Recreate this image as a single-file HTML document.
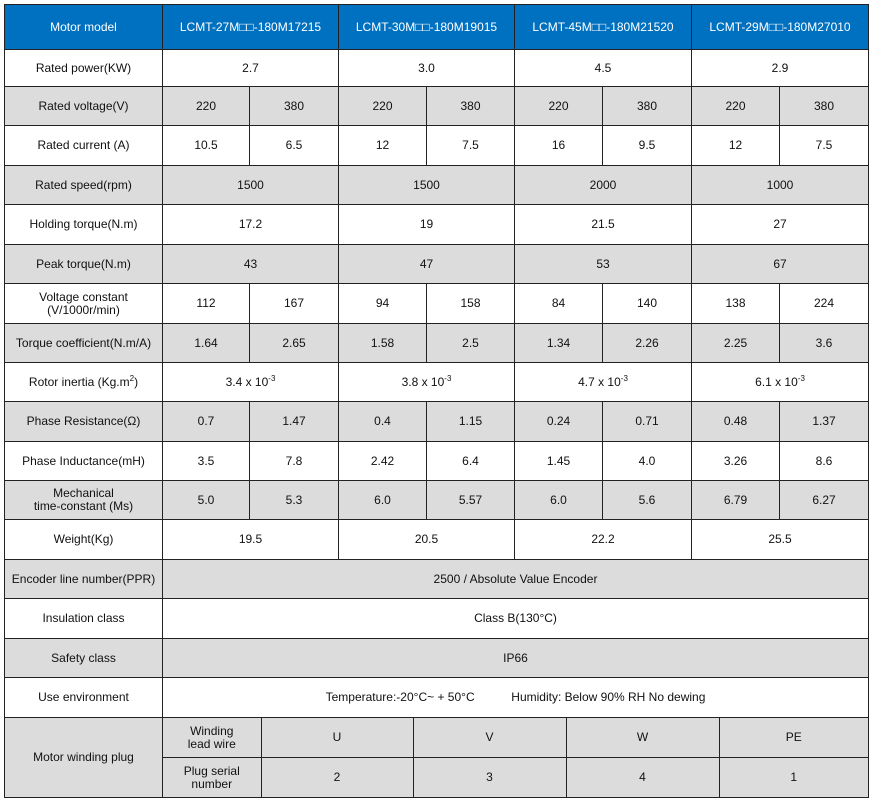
<!DOCTYPE html>
<html><head><meta charset="utf-8"><style>
html,body{margin:0;padding:0;background:#fff;width:873px;height:797px;overflow:hidden}
table{border-collapse:collapse;table-layout:fixed;position:absolute;left:4px;top:4px;font-family:"Liberation Sans",sans-serif;font-size:12px;color:#111}
td{border:1px solid #222;text-align:center;vertical-align:middle;padding:0;line-height:13px;overflow:hidden}
tr.g td{background:#dcdcdc}
tr.h td{background:#0070c0;color:#fff}
sup{font-size:8px;line-height:0}
.in{border-collapse:collapse;position:static;width:100%;height:78px}
.in td{height:39px}
.in tr:first-child td{border-top:none}
.in tr:last-child td{border-bottom:none}
.in td:first-child{border-left:none}
.in td:last-child{border-right:none}
</style></head><body>
<table>
<colgroup><col style="width:158px"><col style="width:87px"><col style="width:89px"><col style="width:88px"><col style="width:88px"><col style="width:88px"><col style="width:89px"><col style="width:88px"><col style="width:89px"></colgroup>
<tr class="h" style="height:45px"><td>Motor model</td><td colspan="2">LCMT-27M□□-180M17215</td><td colspan="2">LCMT-30M□□-180M19015</td><td colspan="2">LCMT-45M□□-180M21520</td><td colspan="2">LCMT-29M□□-180M27010</td></tr>
<tr style="height:37px"><td>Rated power(KW)</td><td colspan="2">2.7</td><td colspan="2">3.0</td><td colspan="2">4.5</td><td colspan="2">2.9</td></tr>
<tr class="g" style="height:39px"><td>Rated voltage(V)</td><td>220</td><td>380</td><td>220</td><td>380</td><td>220</td><td>380</td><td>220</td><td>380</td></tr>
<tr style="height:40px"><td>Rated current (A)</td><td>10.5</td><td>6.5</td><td>12</td><td>7.5</td><td>16</td><td>9.5</td><td>12</td><td>7.5</td></tr>
<tr class="g" style="height:39px"><td>Rated speed(rpm)</td><td colspan="2">1500</td><td colspan="2">1500</td><td colspan="2">2000</td><td colspan="2">1000</td></tr>
<tr style="height:40px"><td>Holding torque(N.m)</td><td colspan="2">17.2</td><td colspan="2">19</td><td colspan="2">21.5</td><td colspan="2">27</td></tr>
<tr class="g" style="height:39px"><td>Peak torque(N.m)</td><td colspan="2">43</td><td colspan="2">47</td><td colspan="2">53</td><td colspan="2">67</td></tr>
<tr style="height:40px"><td>Voltage constant<br>(V/1000r/min)</td><td>112</td><td>167</td><td>94</td><td>158</td><td>84</td><td>140</td><td>138</td><td>224</td></tr>
<tr class="g" style="height:39px"><td>Torque coefficient(N.m/A)</td><td>1.64</td><td>2.65</td><td>1.58</td><td>2.5</td><td>1.34</td><td>2.26</td><td>2.25</td><td>3.6</td></tr>
<tr style="height:39px"><td>Rotor inertia (Kg.m<sup>2</sup>)</td><td colspan="2">3.4 x 10<sup>-3</sup></td><td colspan="2">3.8 x 10<sup>-3</sup></td><td colspan="2">4.7 x 10<sup>-3</sup></td><td colspan="2">6.1 x 10<sup>-3</sup></td></tr>
<tr class="g" style="height:40px"><td>Phase Resistance(Ω)</td><td>0.7</td><td>1.47</td><td>0.4</td><td>1.15</td><td>0.24</td><td>0.71</td><td>0.48</td><td>1.37</td></tr>
<tr style="height:39px"><td>Phase Inductance(mH)</td><td>3.5</td><td>7.8</td><td>2.42</td><td>6.4</td><td>1.45</td><td>4.0</td><td>3.26</td><td>8.6</td></tr>
<tr class="g" style="height:39px"><td>Mechanical<br>time-constant (Ms)</td><td>5.0</td><td>5.3</td><td>6.0</td><td>5.57</td><td>6.0</td><td>5.6</td><td>6.79</td><td>6.27</td></tr>
<tr style="height:40px"><td>Weight(Kg)</td><td colspan="2">19.5</td><td colspan="2">20.5</td><td colspan="2">22.2</td><td colspan="2">25.5</td></tr>
<tr class="g" style="height:39px"><td>Encoder line number(PPR)</td><td colspan="8">2500 / Absolute Value Encoder</td></tr>
<tr style="height:40px"><td>Insulation class</td><td colspan="8">Class B(130°C)</td></tr>
<tr class="g" style="height:39px"><td>Safety class</td><td colspan="8">IP66</td></tr>
<tr style="height:40px"><td>Use environment</td><td colspan="8">Temperature:-20°C~ + 50°C &nbsp;&nbsp;&nbsp;&nbsp;&nbsp;&nbsp;&nbsp;&nbsp;&nbsp;&nbsp;Humidity: Below 90% RH No dewing</td></tr>
<tr class="g" style="height:78px"><td>Motor winding plug</td><td colspan="8" style="height:78px">
<table class="in"><colgroup><col style="width:98px"><col style="width:152px"><col style="width:153px"><col style="width:153px"><col></colgroup>
<tr><td>Winding<br>lead wire</td><td>U</td><td>V</td><td>W</td><td>PE</td></tr>
<tr><td>Plug serial<br>number</td><td>2</td><td>3</td><td>4</td><td>1</td></tr>
</table></td></tr>
</table>
</body></html>
